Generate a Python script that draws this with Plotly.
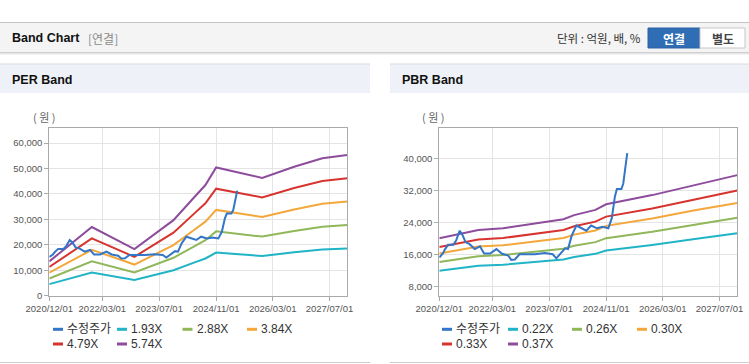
import plotly.graph_objects as go

W, H = 749, 364

# ---------------- data ----------------
x_tick_vals = ["2020-12-01", "2022-03-01", "2023-07-01", "2024-11-01", "2026-03-01", "2027-07-01"]
x_tick_text = ["2020/12/01", "2022/03/01", "2023/07/01", "2024/11/01", "2026/03/01", "2027/07/01"]

price_dates = ["2020-12-01", "2021-01-01", "2021-01-20", "2021-02-15", "2021-04-01", "2021-04-25",
               "2021-05-25", "2021-06-15", "2021-07-15", "2021-08-15", "2021-10-01", "2021-11-15",
               "2021-12-20", "2022-02-10", "2022-04-05", "2022-05-20", "2022-07-15", "2022-08-10",
               "2022-09-10", "2022-10-20", "2022-12-20", "2023-03-01", "2023-05-25", "2023-08-01",
               "2023-09-01", "2023-10-15", "2023-11-15", "2023-12-10", "2024-01-10", "2024-02-20",
               "2024-04-01", "2024-05-15", "2024-06-25", "2024-08-15", "2024-10-01", "2024-11-20",
               "2024-12-20", "2025-01-15", "2025-02-01", "2025-03-12", "2025-03-28", "2025-04-10",
               "2025-05-01"]
price = [15200, 16200, 17300, 18400, 18400, 19500,
         21900, 21000, 19000, 18600, 17300, 18000,
         16200, 16200, 17300, 16200, 15700, 14600,
         14700, 16000, 16000, 16000, 16300, 16000,
         15000, 16500, 17500, 17300, 20600, 23200,
         22500, 21900, 23200, 22500, 22900, 22500,
         25100, 30400, 32300, 32300, 33700, 36900,
         41300]

per_dates = ["2020-12-01", "2021-12-01", "2022-12-01", "2023-07-01", "2023-11-01", "2024-05-01",
             "2024-08-01", "2024-11-01", "2025-12-01", "2026-09-01", "2027-05-01", "2027-12-01"]
per_193 = [4540, 9080, 6150, 8540, 9990, 13080, 14630, 16950, 15570, 17050, 18160, 18590]
per_288 = [6770, 13550, 9180, 12740, 14900, 19520, 21820, 25290, 23230, 25440, 27100, 27750]
per_384 = [9030, 18060, 12240, 16990, 19870, 26020, 29100, 33720, 30970, 33920, 36130, 36990]
per_479 = [11270, 22530, 15270, 21200, 24780, 32460, 36300, 42060, 38640, 42310, 45060, 46150]
per_574 = [13500, 27000, 18300, 25400, 29700, 38900, 43500, 50400, 46300, 50700, 54000, 55300]

pbr_dates = ["2020-12-01", "2021-11-01", "2022-06-01", "2023-03-01", "2023-11-01", "2024-02-01",
             "2024-08-01", "2024-11-01", "2025-12-01", "2026-12-01", "2027-12-01"]
pbr_022 = [11890, 13140, 13380, 14030, 14720, 15340, 16110, 16950, 18310, 19800, 21290]
pbr_026 = [14050, 15530, 15810, 16580, 17390, 18130, 19040, 20030, 21640, 23400, 25160]
pbr_030 = [16220, 17920, 18240, 19140, 20070, 20920, 21970, 23110, 24970, 27000, 28800]
pbr_033 = [17840, 19710, 20070, 21050, 22070, 23010, 24170, 25420, 27470, 29700, 31930]
pbr_037 = [20000, 22100, 22500, 23600, 24750, 25800, 27100, 28500, 30800, 33300, 35800]

per_names = ["1.93X", "2.88X", "3.84X", "4.79X", "5.74X"]
pbr_names = ["0.22X", "0.26X", "0.30X", "0.33X", "0.37X"]
price_name = "수정주가"

# ---------------- style ----------------
C_PRICE = "#3375c6"
C_BANDS = ["#20b4c6", "#90b75a", "#f4a73b", "#d7332f", "#8d4c9c"]
FONT = "Liberation Sans, Arial, Noto Sans CJK KR, sans-serif"
KFONT = "Noto Sans CJK KR, Liberation Sans, sans-serif"


def pxx(x):
    return x / W


def pyy(y):
    return 1 - y / H


fig = go.Figure()

for vals, name, col in zip([per_193, per_288, per_384, per_479, per_574], per_names, C_BANDS):
    fig.add_trace(go.Scatter(x=per_dates, y=vals, mode="lines", name=name,
                             line=dict(color=col, width=2), xaxis="x", yaxis="y",
                             showlegend=False, hoverinfo="skip"))
fig.add_trace(go.Scatter(x=price_dates, y=price, mode="lines", name=price_name,
                         line=dict(color=C_PRICE, width=2), xaxis="x", yaxis="y",
                         showlegend=False, hoverinfo="skip"))

for vals, name, col in zip([pbr_022, pbr_026, pbr_030, pbr_033, pbr_037], pbr_names, C_BANDS):
    fig.add_trace(go.Scatter(x=pbr_dates, y=vals, mode="lines", name=name,
                             line=dict(color=col, width=2), xaxis="x2", yaxis="y2",
                             showlegend=False, hoverinfo="skip"))
fig.add_trace(go.Scatter(x=price_dates, y=price, mode="lines", name=price_name,
                         line=dict(color=C_PRICE, width=2), xaxis="x2", yaxis="y2",
                         showlegend=False, hoverinfo="skip"))

axis_common = dict(showgrid=True, gridcolor="#e4e4e4", gridwidth=1, showline=True,
                   linecolor="#aaaaaa", linewidth=1, mirror=True, ticks="outside",
                   ticklen=4, tickcolor="#aaaaaa", zeroline=False, automargin=False,
                   tickfont=dict(family=FONT, size=9.5, color="#555555"))

xcommon = dict(axis_common, type="date", range=["2020-12-01", "2027-12-01"],
               tickmode="array", tickvals=x_tick_vals, ticktext=x_tick_text)

fig.update_layout(
    template="none",
    width=W, height=H, autosize=False,
    margin=dict(l=0, r=0, t=0, b=0, pad=0),
    paper_bgcolor="#ffffff", plot_bgcolor="#ffffff",
    hovermode=False,
    xaxis=dict(xcommon, domain=[pxx(49.3), pxx(347.3)], anchor="y"),
    yaxis=dict(axis_common, domain=[pyy(295.7), pyy(128.3)], anchor="x",
               range=[0, 65800], tickvals=[0, 10000, 20000, 30000, 40000, 50000, 60000],
               tickformat=",d"),
    xaxis2=dict(xcommon, domain=[pxx(439.3), pxx(737.3)], anchor="y2"),
    yaxis2=dict(axis_common, domain=[pyy(295.7), pyy(128.3)], anchor="x2",
                range=[5650, 47500], tickvals=[8000, 16000, 24000, 32000, 40000],
                tickformat=",d"),
)

shapes = []


def rect(x0, y0, x1, y1, fill, line=None):
    shapes.append(dict(type="rect", xref="paper", yref="paper", x0=pxx(x0), x1=pxx(x1),
                       y0=pyy(y1), y1=pyy(y0), fillcolor=fill,
                       line=dict(width=1 if line else 0, color=line or fill), layer="below"))


def hline(x0, x1, y, color, width=1, layer="below"):
    shapes.append(dict(type="line", xref="paper", yref="paper", x0=pxx(x0), x1=pxx(x1),
                       y0=pyy(y), y1=pyy(y), line=dict(color=color, width=width), layer=layer))


# header bar
rect(0, 22.5, 749, 52.5, "#f4f4f4")
hline(0, 749, 22.5, "#c4c4c4")
hline(0, 749, 52.5, "#cfcfcf")
hline(0, 749, 53.5, "#e6e6e6")
hline(0, 749, 54.5, "#f2f2f2")
# buttons
rect(648, 28, 700, 48, "#2f6db4", "#2a63a6")
rect(700, 28, 745, 48, "#ffffff", "#c6c6c6")
# panel title bars
rect(0, 64, 370, 93, "#eef2f8")
rect(390, 64, 749, 93, "#eef2f8")
hline(0, 370, 64, "#dadada")
hline(390, 749, 64, "#dadada")
# panel bottom lines
hline(0, 370, 362.5, "#cccccc")
hline(390, 749, 362.5, "#cccccc")

annotations = []


def text(x, y, s, size=12, color="#333333", anchor="left", bold=False, family=KFONT):
    annotations.append(dict(xref="paper", yref="paper", x=pxx(x), y=pyy(y),
                            text=f"<b>{s}</b>" if bold else s, showarrow=False,
                            xanchor=anchor, yanchor="middle", borderpad=0,
                            font=dict(family=family, size=size, color=color)))


text(11, 38.5, "Band Chart", 12.5, "#111111", bold=True, family=FONT)
text(87, 38.5, "[연결]", 12, "#8a8a8a")
text(642, 38.5, "단위 : 억원, 배, %", 11.5, "#333333", anchor="right")
text(674, 38.5, "연결", 12, "#ffffff", anchor="center", bold=True)
text(722.5, 38.5, "별도", 12, "#444444", anchor="center", bold=True)
text(11, 79.5, "PER Band", 12.5, "#111111", bold=True, family=FONT)
text(401, 79.5, "PBR Band", 12.5, "#111111", bold=True, family=FONT)
text(44, 117.5, "( 원 )", 11, "#666666", anchor="center")
text(433, 117.5, "( 원 )", 11, "#666666", anchor="center")

# legends (manual, short line symbols)
legend_names_per = [price_name] + per_names
legend_names_pbr = [price_name] + pbr_names
legend_colors = [C_PRICE] + C_BANDS


def legend(cols, rows, names):
    for i, (nm, col) in enumerate(zip(names, legend_colors)):
        r, c = divmod(i, 4)
        x = cols[c]
        y = rows[r]
        hline(x, x + 10, y, col, width=3, layer="above")
        text(x + 13, y, nm, 12, "#333333", family=FONT)


legend([53, 117, 182.5, 247], [329.3, 344], legend_names_per)
legend([442, 508, 572, 637], [329.3, 344], legend_names_pbr)

fig.update_layout(shapes=shapes, annotations=annotations)

fig.write_html("out.html", config={"displayModeBar": False, "staticPlot": True},
               post_script="document.body.style.margin='0';document.body.style.overflow='hidden';")
